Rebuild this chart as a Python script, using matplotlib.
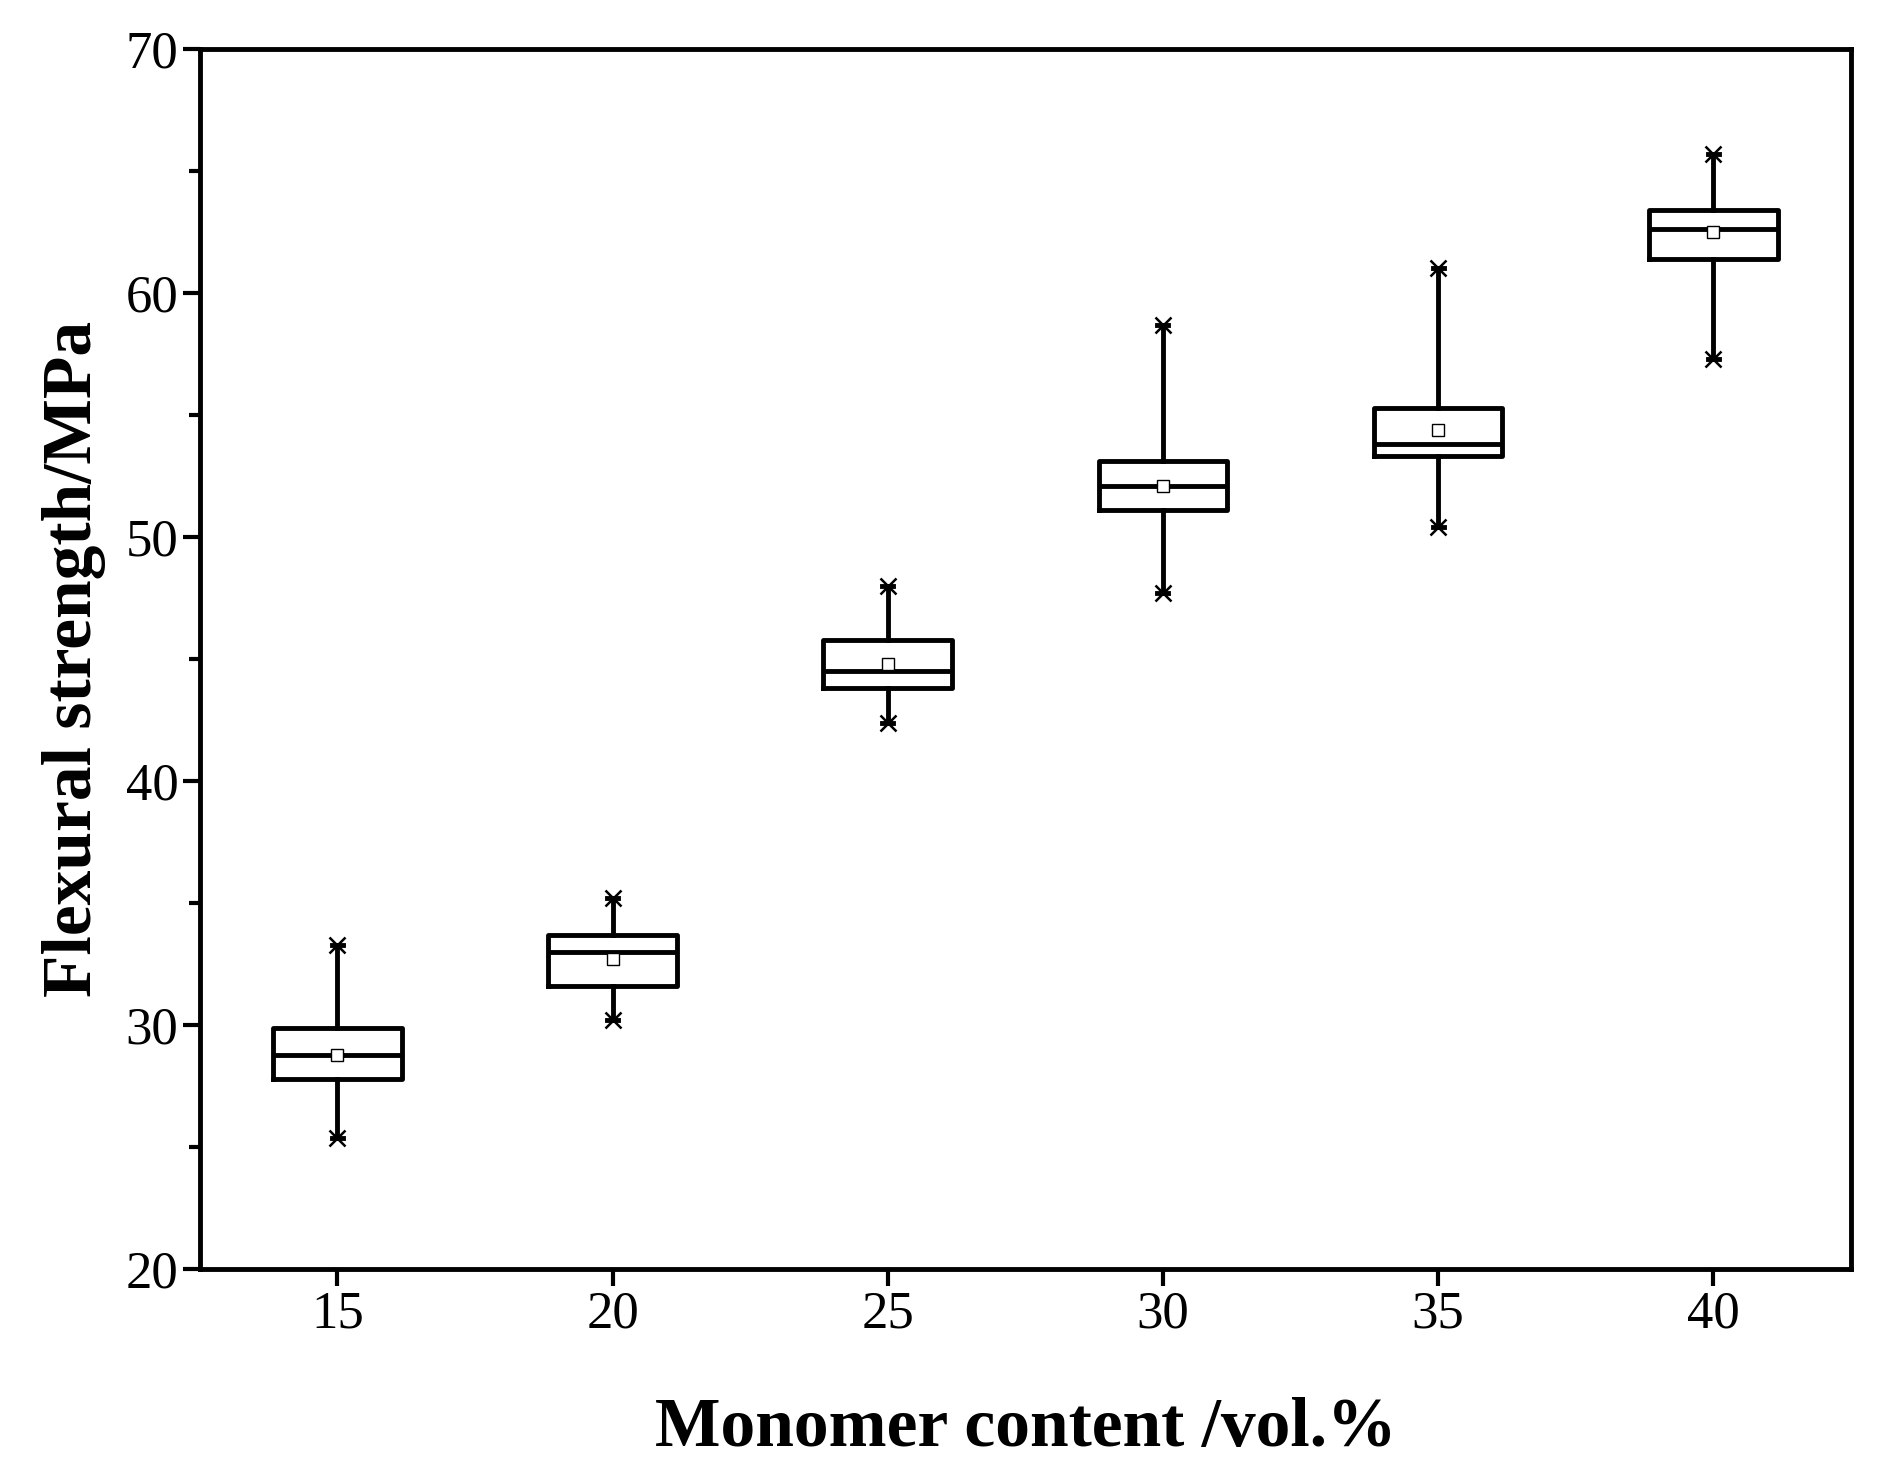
import matplotlib
matplotlib.use("Agg")
import matplotlib.pyplot as plt
from matplotlib.ticker import MultipleLocator

# values
content = [15, 20, 25, 30, 35, 40]
whisker_lo = [25.4, 30.2, 42.4, 47.7, 50.4, 57.3]
q1 = [27.8, 31.6, 43.8, 51.1, 53.3, 61.4]
median = [28.8, 33.0, 44.5, 52.1, 53.8, 62.6]
q3 = [29.9, 33.7, 45.8, 53.1, 55.3, 63.4]
whisker_hi = [33.3, 35.2, 48.0, 58.7, 61.0, 65.7]
mean = [28.8, 32.7, 44.8, 52.1, 54.4, 62.5]

plt.rcParams["font.family"] = ["Liberation Serif", "DejaVu Serif"]

fig = plt.figure(figsize=(18.79, 14.76), dpi=100)
ax = fig.add_axes([0.1064, 0.140, 0.8786, 0.827])

stats = [dict(whislo=lo, q1=a, med=m, q3=b, whishi=hi, mean=mu)
         for lo, a, m, b, hi, mu in zip(whisker_lo, q1, median, q3, whisker_hi, mean)]
lw = 3.5
ax.bxp(stats, positions=content, widths=2.34, showmeans=True, showfliers=False,
       boxprops=dict(color="black", linewidth=lw),
       medianprops=dict(color="black", linewidth=lw),
       whiskerprops=dict(color="black", linewidth=lw),
       capprops=dict(color="black", linewidth=lw),
       capwidths=0.2,
       meanprops=dict(marker="s", markerfacecolor="white", markeredgecolor="black",
                      markersize=9, markeredgewidth=1.0))
ax.plot(content, whisker_hi, "x", color="black", markersize=11, markeredgewidth=1.8)
ax.plot(content, whisker_lo, "x", color="black", markersize=11, markeredgewidth=1.8)

ax.set_xlim(12.5, 42.5)
ax.set_ylim(20, 70)
ax.set_xticks(content)
ax.set_xticklabels([str(c) for c in content])
ax.yaxis.set_major_locator(MultipleLocator(10))
ax.yaxis.set_minor_locator(MultipleLocator(5))
ax.tick_params(axis="both", which="major", labelsize=38, width=3, length=12, direction="out")
ax.tick_params(axis="y", which="minor", width=3, length=8, direction="out")
for s in ax.spines.values():
    s.set_linewidth(3.5)

ax.set_xlabel("Monomer content /vol.%", fontsize=50, fontweight="bold", labelpad=42)
ax.set_ylabel("Flexural strength/MPa", fontsize=50, fontweight="bold", labelpad=14)

fig.savefig("out.png", dpi=100)
